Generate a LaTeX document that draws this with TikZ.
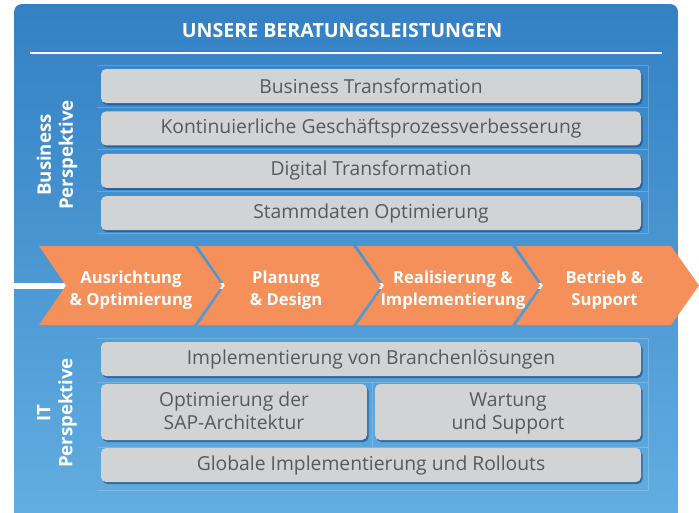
\documentclass[tikz,border=0pt]{standalone}
\usepackage{fontspec}
\setmainfont{Open Sans}
\usetikzlibrary{positioning, shadows}
\definecolor{topblue}{HTML}{3380C4}
\definecolor{botblue}{HTML}{63AFE2}
\definecolor{boxgray}{HTML}{D2D3D5}
\definecolor{textgray}{HTML}{58595B}
\definecolor{chevorange}{HTML}{F5905A}
\definecolor{shadowblue}{HTML}{1E4F85}
\newcommand{\topstrut}{\rule{0pt}{17pt}}
\newcommand{\botstrut}{\rule[-5pt]{0pt}{0pt}}

\begin{document}
\begin{tikzpicture}[x=1pt,y=-1pt]
    \tikzset{service/.style={rectangle,rounded corners=5pt,fill=boxgray,text=textgray,minimum height=34pt,inner sep=0pt,align=center,font=\fontsize{19.3}{22.5}\selectfont,drop shadow={shadow xshift=1.5pt,shadow yshift=-2pt,fill=shadowblue,opacity=0.7}}}
    \tikzset{phase/.style={text=white,inner sep=0pt,align=center,font=\fontsize{16.6}{22}\selectfont\bfseries}}
    \tikzset{side/.style={rotate=90,text=white,align=center,font=\fontsize{18.6}{22}\selectfont\bfseries}}
    \tikzset{grid/.style={white,opacity=0.2,line width=0.8pt}}

    \useasboundingbox (0,0) rectangle (699,512);
    \clip (0,0) rectangle (699,512);
    \shade[top color=topblue,bottom color=botblue,rounded corners=8pt] (14,4) rectangle (678,530);

    \node[text=white,font=\fontsize{19.6}{22}\selectfont\bfseries] (title) at (342,30.5) {UNSERE BERATUNGSLEISTUNGEN};
    \draw[white,line width=2pt] (30,53) -- (662,53);

    % faint table lines
    \foreach \y in {65,107,149,191,233} \draw[grid] (97,\y) -- (648,\y);
    \draw[grid] (648,65) -- (648,233);
    \foreach \y in {338,382,447,490} \draw[grid] (97,\y) -- (648,\y);
    \draw[grid] (648,338) -- (648,490);
    \draw[grid] (372,382) -- (372,447);

    % business
    \node[side] (bp) at (57,155) {Business\\Perspektive};
    \node[service,minimum width=540pt] at (371,86) (bt) {Business Transformation};
    \node[service,minimum width=540pt,below=8pt of bt] (kgv) {Kontinuierliche Geschäftsprozessverbesserung};
    \node[service,minimum width=540pt,below=8pt of kgv] (dt) {Digital Transformation};
    \node[service,minimum width=540pt,below=8pt of dt] (so) {Stammdaten Optimierung};

    % phases
    \coordinate (start) at (0,286);
    \coordinate (stop) at (690,286);
    \draw[white,line width=6pt] (start) -- (stop);
    \foreach \x in {39,198,357,516}
        \fill[chevorange] (\x,246) -- ++(155,0) -- ++(28,39.5) -- ++(-28,39.5) -- ++(-155,0) -- ++(27,-39.5) -- cycle;
    \node[phase] at (131,288) (ao) {Ausrichtung\topstrut\\\& Optimierung\botstrut};
    \node[phase] at (286,288) (pd) {Planung\topstrut\\\& Design\botstrut};
    \node[phase] at (453,288) (ri) {Realisierung \&\topstrut\\Implementierung\botstrut};
    \node[phase] at (604.5,288) (bs) {Betrieb \&\topstrut\\Support\botstrut};

    % IT
    \node[side] (itp) at (57,413) {IT\\Perspektive};
    \node[service,minimum width=540pt] at (371,359) (ib) {Implementierung von Branchenlösungen};
    \node[service,minimum width=266pt,minimum height=56pt] at (234,412) (osa) {Optimierung der\topstrut\\SAP-Architektur\botstrut};
    \node[service,minimum width=266pt,minimum height=56pt] at (508,412) (wus) {Wartung\topstrut\\und Support\botstrut};
    \node[service,minimum width=540pt] at (371,465) (gir) {Globale Implementierung und Rollouts};
\end{tikzpicture}
\end{document}
